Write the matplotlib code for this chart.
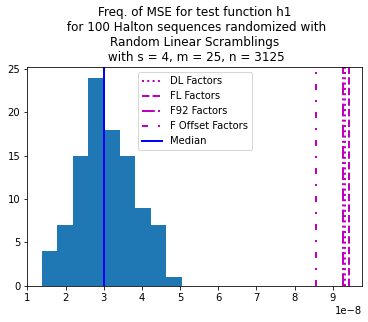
import numpy as np
import matplotlib
matplotlib.use("Agg")
import matplotlib.pyplot as plt

# Histogram of MSE values (units of 1e-8)
bin_edges = [1.377, 1.785, 2.193, 2.601, 3.009, 3.417, 3.825, 4.233, 4.641, 5.049]
counts = [4, 7, 15, 24, 18, 15, 9, 7, 1]
median = 3.008
dl_factors = 9.33
fl_factors = 9.41
f92_factors = 9.255
f_offset_factors = 8.557
scale = 1e-8

fig = plt.figure(figsize=(368 / 72, 322 / 72), dpi=72)
ax = fig.add_axes([0.0742, 0.1127, 0.9103, 0.6783])

edges = np.array(bin_edges) * scale
centers = (edges[:-1] + edges[1:]) / 2
ax.hist(centers, bins=edges, weights=counts, color="#1f77b4")

ax.axvline(dl_factors * scale, color="m", linestyle=":", lw=2, label="DL Factors")
ax.axvline(fl_factors * scale, color="m", linestyle="--", lw=2, label="FL Factors")
ax.axvline(f92_factors * scale, color="m", linestyle="-.", lw=2, label="F92 Factors")
ax.axvline(f_offset_factors * scale, color="m", linestyle=(0, (3, 5, 1, 5)), lw=2,
           label="F Offset Factors")
ax.axvline(median * scale, color="b", lw=2, label="Median")

ax.set_xlim(1.0 * scale, 9.77 * scale)
ax.set_xticks(np.arange(1, 10) * scale)
ax.set_ylim(0, 25.2)
ax.legend(loc="upper center")
ax.set_title("Freq. of MSE for test function h1\n for 100 Halton sequences randomized with\n"
             "Random Linear Scramblings\n with s = 4, m = 25, n = 3125")

fig.savefig("out.png", dpi=72)
